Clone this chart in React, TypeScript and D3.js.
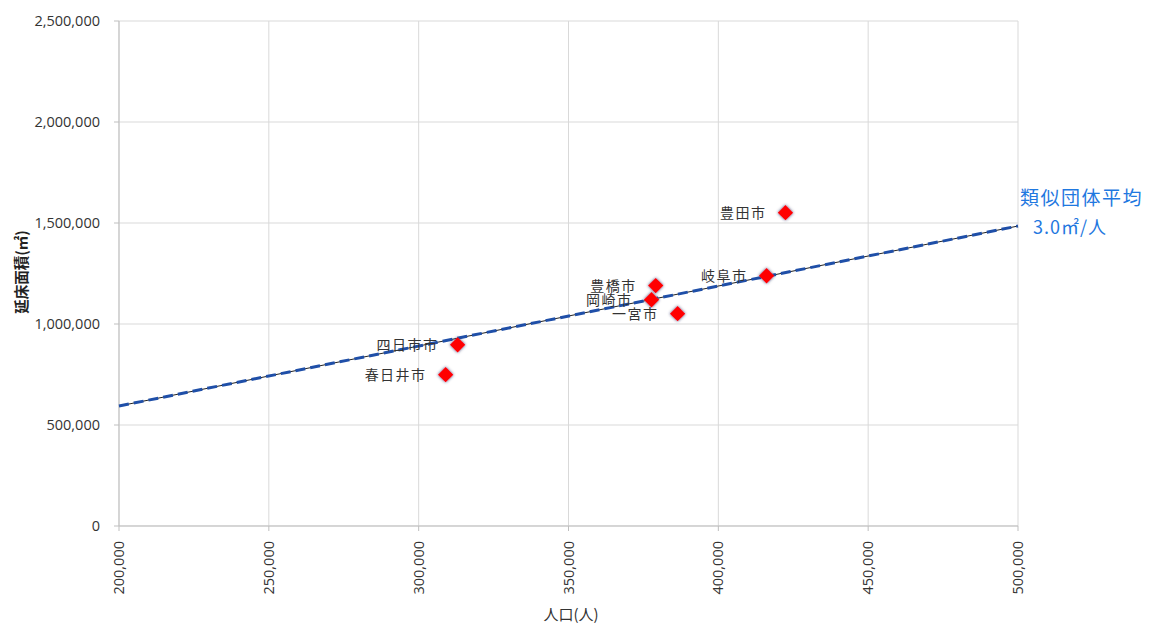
import React from "react";
import * as d3 from "d3";

// Cities: population (x) vs. total floor area in m² (y)
const cities = ["四日市市", "春日井市", "豊橋市", "岡崎市", "一宮市", "岐阜市", "豊田市"];
const population = [313000, 309000, 379100, 377700, 386400, 416100, 422400];
const floorArea = [897000, 749000, 1190000, 1120000, 1051000, 1239000, 1551000];

// Average floor area per person among comparable municipalities (m²/person)
const perCapita = 2.97;

const xTicks = [200000, 250000, 300000, 350000, 400000, 450000, 500000];
const yTicks = [0, 500000, 1000000, 1500000, 2000000, 2500000];

const W = 1153;
const H = 623;
const M = { left: 119, right: 1018, top: 21, bottom: 526 };

const numFont = "'Open Sans', 'Noto Sans', sans-serif";
const jpFont = "'Noto Sans CJK JP', 'Noto Sans', sans-serif";

export default function App() {
  const x = d3.scaleLinear().domain([200000, 500000]).range([M.left, M.right]);
  const y = d3.scaleLinear().domain([0, 2500000]).range([M.bottom, M.top]);
  const fmt = d3.format(",");
  const trend = d3
    .line<number>()
    .x((d) => x(d))
    .y((d) => y(d * perCapita));
  const trendPath = trend([200000, 500000]) || "";
  const diamond = d3.symbol().type(d3.symbolDiamond2).size(150)() || "";

  return (
    <svg
      width={W}
      height={H}
      style={{ position: "absolute", left: 0, top: 0, background: "#fff" }}
    >
      <defs>
        <filter id="pt-shadow" x="-50%" y="-50%" width="200%" height="200%">
          <feGaussianBlur in="SourceAlpha" stdDeviation="1.5" result="b" />
          <feFlood floodColor="#2e3360" floodOpacity="0.9" />
          <feComposite in2="b" operator="in" result="s" />
          <feMerge>
            <feMergeNode in="s" />
            <feMergeNode in="SourceGraphic" />
          </feMerge>
        </filter>
      </defs>

      {/* grid */}
      {xTicks.map((t) => (
        <line
          key={"gx" + t}
          x1={x(t)}
          x2={x(t)}
          y1={M.top}
          y2={M.bottom}
          stroke="#d9d9d9"
          strokeWidth={1}
        />
      ))}
      {yTicks.map((t) => (
        <line
          key={"gy" + t}
          x1={M.left}
          x2={M.right}
          y1={y(t)}
          y2={y(t)}
          stroke="#d9d9d9"
          strokeWidth={1}
        />
      ))}

      {/* axes */}
      <line x1={M.left} x2={M.left} y1={M.top} y2={M.bottom} stroke="#bfbfbf" />
      <line x1={M.left} x2={M.right} y1={M.bottom} y2={M.bottom} stroke="#bfbfbf" />
      {yTicks.map((t) => (
        <g key={"ty" + t}>
          <line x1={M.left - 5} x2={M.left} y1={y(t)} y2={y(t)} stroke="#bfbfbf" />
          <text
            x={100}
            y={y(t)}
            dy="0.35em"
            textAnchor="end"
            fontFamily={numFont}
            fontSize={14.5}
            fill="#333"
          >
            {fmt(t)}
          </text>
        </g>
      ))}
      {xTicks.map((t) => (
        <g key={"tx" + t}>
          <line x1={x(t)} x2={x(t)} y1={M.bottom} y2={M.bottom + 5} stroke="#bfbfbf" />
          <text
            transform={`translate(${x(t)},${541}) rotate(-90)`}
            dy="0.35em"
            textAnchor="end"
            fontFamily={numFont}
            fontSize={14.5}
            fill="#333"
          >
            {fmt(t)}
          </text>
        </g>
      ))}

      {/* axis titles */}
      <text
        transform={`translate(22,272) rotate(-90)`}
        dy="0.35em"
        textAnchor="middle"
        fontFamily={jpFont}
        fontWeight="bold"
        fontSize={14.5}
        fill="#222"
      >
        延床面積(㎡)
      </text>
      <text
        x={571}
        y={615}
        dy="0.35em"
        textAnchor="middle"
        fontFamily={jpFont}
        fontSize={15}
        fill="#333"
      >
        人口(人)
      </text>

      {/* per-capita reference line */}
      <path d={trendPath} fill="none" stroke="#222" strokeWidth={1} />
      <path
        d={trendPath}
        fill="none"
        stroke="#1f4fa8"
        strokeWidth={3}
        strokeDasharray="10 5"
      />

      {/* points and labels */}
      {cities.map((c, i) => (
        <g key={c}>
          <path
            d={diamond}
            transform={`translate(${x(population[i])},${y(floorArea[i])})`}
            fill="#ff0000"
            filter="url(#pt-shadow)"
          />
          <text
            x={x(population[i]) - 19}
            y={y(floorArea[i])}
            dy="0.35em"
            textAnchor="end"
            fontFamily={jpFont}
            fontSize={14}
            letterSpacing={1.5}
            fill="#333"
          >
            {c}
          </text>
        </g>
      ))}

      {/* reference line annotation */}
      <text
        x={1020}
        y={198}
        dy="0.35em"
        fontFamily={jpFont}
        fontSize={19}
        letterSpacing={1.5}
        fill="#1f78e0"
      >
        類似団体平均
      </text>
      <text
        x={1033}
        y={228}
        dy="0.35em"
        fontFamily={jpFont}
        fontSize={18}
        letterSpacing={1}
        fill="#1f78e0"
      >
        {d3.format(".1f")(perCapita)}㎡/人
      </text>
    </svg>
  );
}
